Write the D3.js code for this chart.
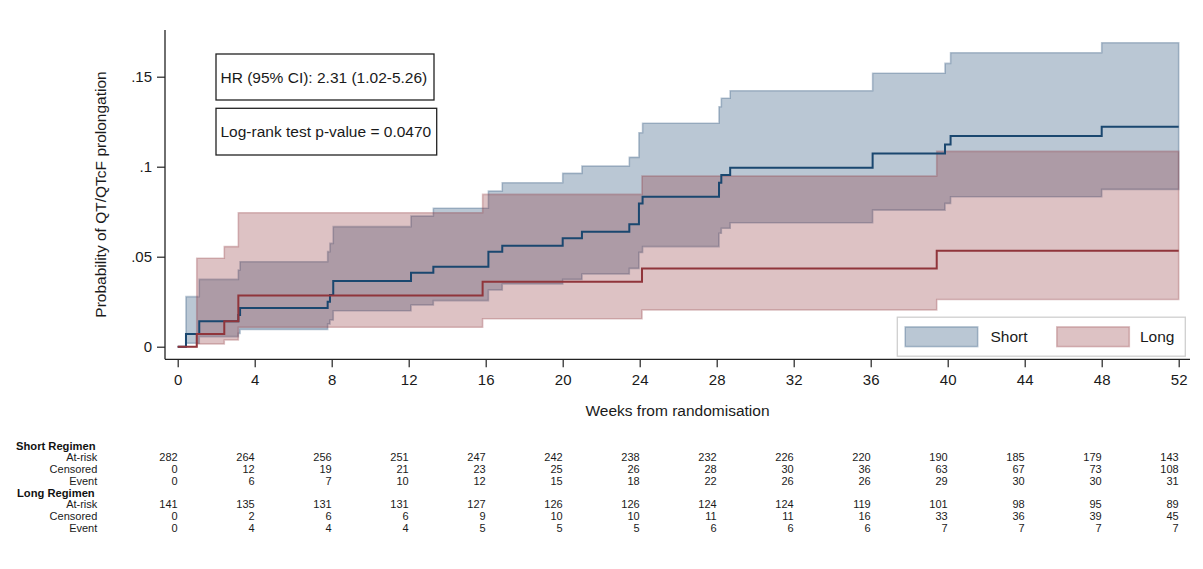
<!DOCTYPE html>
<html>
<head>
<meta charset="utf-8">
<script src="https://d3js.org/d3.v7.min.js"></script>
<style>
  body { margin: 0; background: #fff; }
  svg { display: block; font-family: "Liberation Sans", Arial, sans-serif; }
</style>
</head>
<body>
<div id="chart"></div>
<script>
// KM step values (weeks, cumulative probability)
const shortTime = [0, 0.43, 1.12, 3.15, 3.24, 7.79, 7.91, 8.08, 12.12, 13.28, 16.14, 16.86, 20.0, 21.0, 23.46, 23.96, 24.15, 28.12, 28.24, 28.7, 36.1, 39.86, 40.15, 48.0];
const shortEst = [0, .0071, .0142, .0176, .0215, .0250, .0287, .0365, .0411, .0444, .0528, .0561, .0602, .0639, .0680, .0796, .0833, .0911, .0954, .0994, .1074, .1124, .1170, .1222];
const shortLo = [0, .0019, .0056, .0074, .0096, .0126, .0148, .0200, .0232, .0256, .0315, .0348, .0374, .0404, .0435, .0524, .0556, .0630, .0658, .0689, .0759, .0796, .0833, .0874];
const shortHi = [0, .0278, .0374, .0426, .0472, .0528, .0574, .0667, .0726, .0769, .0865, .0911, .0963, .1004, .1052, .1189, .1241, .1333, .1380, .1422, .1519, .1574, .1633, .1689];

const longTime = [0, 0.99, 2.42, 3.15, 15.84, 24.12, 39.43];
const longEst = [0, .0071, .0141, .0285, .0361, .0435, .0533];
const longLo = [0, .0015, .0037, .0108, .0155, .0204, .0262];
const longHi = [0, .0491, .0556, .0744, .0846, .0948, .1085];

const weeks = [0, 4, 8, 12, 16, 20, 24, 28, 32, 36, 40, 44, 48, 52];
const yTicks = [0, .05, .1, .15];
const yTickLabels = ["0", ".05", ".1", ".15"];

const shortAtRisk = [282, 264, 256, 251, 247, 242, 238, 232, 226, 220, 190, 185, 179, 143];
const shortCensored = [0, 12, 19, 21, 23, 25, 26, 28, 30, 36, 63, 67, 73, 108];
const shortEvent = [0, 6, 7, 10, 12, 15, 18, 22, 26, 26, 29, 30, 30, 31];
const longAtRisk = [141, 135, 131, 131, 127, 126, 126, 124, 124, 119, 101, 98, 95, 89];
const longCensored = [0, 2, 6, 6, 9, 10, 10, 11, 11, 16, 33, 36, 39, 45];
const longEvent = [0, 4, 4, 4, 5, 5, 5, 6, 6, 6, 7, 7, 7, 7];

const w = 1203, h = 569;
const navy = "#1a476f", maroon = "#90353b";
const plot = { left: 165, right: 1190, top: 30, bottom: 359.3 };

const xScale = d3.scaleLinear().domain([0, 52]).range([177.7, 1178.7]);
const yScale = d3.scaleLinear().domain([0, 0.15]).range([346.7, 76.7]);

function rows(t, est, lo, hi) {
  const r = t.map((d, i) => ({ t: d, est: est[i], lo: lo[i], hi: hi[i] }));
  const last = r[r.length - 1];
  r.push({ t: 52, est: last.est, lo: last.lo, hi: last.hi });
  return r;
}
const shortRows = rows(shortTime, shortEst, shortLo, shortHi);
const longRows = rows(longTime, longEst, longLo, longHi);

const svg = d3.select("#chart").append("svg")
  .attr("width", w)
  .attr("height", h);

svg.append("rect").attr("width", w).attr("height", h).attr("fill", "#fff");

const band = d3.area()
  .curve(d3.curveStepAfter)
  .x(d => xScale(d.t))
  .y0(d => yScale(d.lo))
  .y1(d => yScale(d.hi));

const line = d3.line()
  .curve(d3.curveStepAfter)
  .x(d => xScale(d.t))
  .y(d => yScale(d.est));

[[shortRows, navy], [longRows, maroon]].forEach(([data, c]) => {
  svg.append("path")
    .datum(data)
    .attr("d", band)
    .attr("fill", c)
    .attr("fill-opacity", 0.3)
    .attr("stroke", c)
    .attr("stroke-opacity", 0.3)
    .attr("stroke-width", 1.6);
});

[[shortRows, navy], [longRows, maroon]].forEach(([data, c]) => {
  svg.append("path")
    .datum(data)
    .attr("d", line)
    .attr("fill", "none")
    .attr("stroke", c)
    .attr("stroke-width", 2);
});

// axes
const xAxis = d3.axisBottom(xScale).tickValues(weeks).tickSize(8).tickPadding(7);
const yAxis = d3.axisLeft(yScale).tickValues(yTicks).tickFormat((d, i) => yTickLabels[i]).tickSize(8).tickPadding(5);

const gx = svg.append("g")
  .attr("transform", "translate(0," + plot.bottom + ")")
  .call(xAxis);
const gy = svg.append("g")
  .attr("transform", "translate(" + plot.left + ",0)")
  .call(yAxis);

[gx, gy].forEach(g => {
  g.select(".domain").remove();
  g.selectAll(".tick line").attr("stroke", "#222").attr("stroke-width", 1.2);
  g.selectAll(".tick text").attr("fill", "#1a1a1a").attr("font-size", 15)
    .attr("font-family", "'Liberation Sans', Arial, sans-serif");
});

svg.append("line")
  .attr("x1", plot.left).attr("x2", plot.right)
  .attr("y1", plot.bottom).attr("y2", plot.bottom)
  .attr("stroke", "#222").attr("stroke-width", 1.3);
svg.append("line")
  .attr("x1", plot.left).attr("x2", plot.left)
  .attr("y1", plot.top).attr("y2", plot.bottom)
  .attr("stroke", "#222").attr("stroke-width", 1.3);

svg.append("text")
  .attr("x", 677.5).attr("y", 416)
  .attr("text-anchor", "middle")
  .attr("font-size", 15.5)
  .attr("fill", "#1a1a1a")
  .text("Weeks from randomisation");

svg.append("text")
  .attr("transform", "translate(106,194.5) rotate(-90)")
  .attr("text-anchor", "middle")
  .attr("font-size", 15.5)
  .attr("fill", "#1a1a1a")
  .text("Probability of QT/QTcF prolongation");

// annotation boxes
const notes = [
  { text: "HR (95% CI): 2.31 (1.02-5.26)", x: 216, y: 54, w: 218, h: 46 },
  { text: "Log-rank test p-value = 0.0470", x: 216, y: 108.3, w: 220.7, h: 46.7 }
];
notes.forEach(n => {
  svg.append("rect")
    .attr("x", n.x).attr("y", n.y).attr("width", n.w).attr("height", n.h)
    .attr("fill", "#fff").attr("stroke", "#222").attr("stroke-width", 1.3);
  svg.append("text")
    .attr("x", n.x + 4.5).attr("y", n.y + n.h / 2 + 5.5)
    .attr("font-size", 15.5)
    .attr("fill", "#1a1a1a")
    .text(n.text);
});

// legend
svg.append("rect")
  .attr("x", 897.3).attr("y", 317.2).attr("width", 288).attr("height", 39)
  .attr("fill", "#fff").attr("stroke", "#cfcfcf").attr("stroke-width", 1.3);
const legendItems = [
  { label: "Short", c: navy, x: 905.2, tx: 990.5 },
  { label: "Long", c: maroon, x: 1056.8, tx: 1140 }
];
legendItems.forEach(l => {
  svg.append("rect")
    .attr("x", l.x).attr("y", 326.9).attr("width", 72.5).attr("height", 19.7)
    .attr("fill", l.c).attr("fill-opacity", 0.3)
    .attr("stroke", l.c).attr("stroke-opacity", 0.3).attr("stroke-width", 1.6);
  svg.append("text")
    .attr("x", l.tx).attr("y", 341.5)
    .attr("font-size", 15.5)
    .attr("fill", "#1a1a1a")
    .text(l.label);
});

// number at risk table
const table = [
  { head: "Short Regimen", hx: 16, rows: [["At-risk", shortAtRisk], ["Censored", shortCensored], ["Event", shortEvent]] },
  { head: "Long Regimen", hx: 17, rows: [["At-risk", longAtRisk], ["Censored", longCensored], ["Event", longEvent]] }
];
let rowY = 445.7;
const rowStep = 11.7;
table.forEach(grp => {
  svg.append("text")
    .attr("x", grp.hx).attr("y", rowY + 4)
    .attr("font-size", 11.2).attr("font-weight", "bold")
    .attr("fill", "#111")
    .text(grp.head);
  rowY += rowStep;
  grp.rows.forEach(([name, vals]) => {
    svg.append("text")
      .attr("x", 97.3).attr("y", rowY + 4)
      .attr("text-anchor", "end")
      .attr("font-size", 11)
      .attr("fill", "#1a1a1a")
      .text(name);
    svg.selectAll(null)
      .data(vals)
      .enter()
      .append("text")
      .attr("x", (d, i) => xScale(weeks[i]))
      .attr("y", rowY + 4)
      .attr("text-anchor", "end")
      .attr("font-size", 11)
      .attr("fill", "#1a1a1a")
      .text(d => d);
    rowY += rowStep;
  });
});
</script>
</body>
</html>
